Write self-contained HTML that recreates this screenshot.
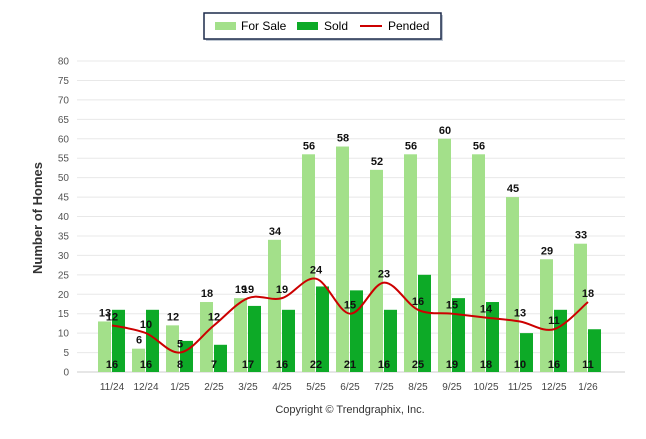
<!DOCTYPE html>
<html><head><meta charset="utf-8"><style>
body{margin:0;background:#fff;width:646px;height:434px;overflow:hidden;font-family:"Liberation Sans",Arial,sans-serif}
</style></head><body>
<svg id="chart" width="646" height="434" xmlns="http://www.w3.org/2000/svg" font-family="Liberation Sans, Arial, sans-serif">
<g>
<rect x="206" y="15" width="237" height="26" fill="#7f8fa6" opacity="0.5"/>
<rect x="204" y="13" width="237" height="26" fill="#fff" stroke="#1c2a4a" stroke-width="1.5"/>
<rect x="215" y="22" width="21" height="8" fill="#a3e08a"/>
<text x="241" y="30" font-size="12" fill="#000">For Sale</text>
<rect x="297" y="22" width="21" height="8" fill="#0daa27"/>
<text x="324" y="30" font-size="12" fill="#000">Sold</text>
<line x1="360" y1="26" x2="382" y2="26" stroke="#cc0000" stroke-width="2"/>
<text x="388" y="30" font-size="12" fill="#000">Pended</text>
</g>
<text transform="translate(42,218) rotate(-90)" text-anchor="middle" font-size="13" font-weight="bold" fill="#333">Number of Homes</text>
<text x="350" y="413" text-anchor="middle" font-size="11" fill="#333">Copyright © Trendgraphix, Inc.</text>
<g id="grid"></g><g id="bars"></g><g id="line"></g><g id="labels"></g>
</svg>
<script>
const categories=["11/24","12/24","1/25","2/25","3/25","4/25","5/25","6/25","7/25","8/25","9/25","10/25","11/25","12/25","1/26"];
const forSale=[13,6,12,18,19,34,56,58,52,56,60,56,45,29,33];
const sold=[16,16,8,7,17,16,22,21,16,25,19,18,10,16,11];
const pended=[12,10,5,12,19,19,24,15,23,16,15,14,13,11,18];
const yTicks=[0,5,10,15,20,25,30,35,40,45,50,55,60,65,70,75,80];
const NS="http://www.w3.org/2000/svg";
const y=v=>372-v*(311/80);
const x=i=>112+i*34;
function mk(t,a,p){const e=document.createElementNS(NS,t);for(const k in a)e.setAttribute(k,a[k]);p.appendChild(e);return e;}
const grid=document.getElementById('grid'),bars=document.getElementById('bars'),line=document.getElementById('line'),labels=document.getElementById('labels');
yTicks.forEach(t=>{
 const g=mk('line',{x1:77,x2:625,y1:y(t),y2:y(t),stroke:t===0?'#ccc':'#e8e8e8','stroke-width':1},grid);
 
 
 const tx=mk('text',{x:69,y:y(t)+3.5,'text-anchor':'end','font-size':10,fill:'#555'},grid);tx.textContent=t;
 
 
});
categories.forEach((c,i)=>{
 const tx=mk('text',{x:x(i),y:390,'text-anchor':'middle','font-size':10,fill:'#444'},grid);tx.textContent=c;
 
 
 const b1=mk('rect',{x:x(i)-14,y:y(forSale[i]),width:13,height:372-y(forSale[i]),fill:'#a3e08a'},bars);
 
 
 const b2=mk('rect',{x:x(i),y:y(sold[i]),width:13,height:372-y(sold[i]),fill:'#0daa27'},bars);
 
 
 const l1=mk('text',{x:x(i)-7,y:y(forSale[i])-5,'text-anchor':'middle','font-size':11,'font-weight':'bold',fill:'#111'},labels);l1.textContent=forSale[i];
 
 
 const l2=mk('text',{x:x(i),y:368,'text-anchor':'middle','font-size':11,'font-weight':'bold',fill:'#111'},labels);l2.textContent=sold[i];
 
 
 const l3=mk('text',{x:x(i),y:y(pended[i])-5,'text-anchor':'middle','font-size':11,'font-weight':'bold',fill:'#111'},labels);l3.textContent=pended[i];
 
 
});
const pts=pended.map((v,i)=>[x(i),y(v)]);
let d='M'+pts[0][0]+','+pts[0][1];
for(let i=0;i<pts.length-1;i++){
 const p0=pts[Math.max(0,i-1)],p1=pts[i],p2=pts[i+1],p3=pts[Math.min(pts.length-1,i+2)];
 const c1=[p1[0]+(p2[0]-p0[0])/6,p1[1]+(p2[1]-p0[1])/6],c2=[p2[0]-(p3[0]-p1[0])/6,p2[1]-(p3[1]-p1[1])/6];
 d+=` C${c1[0]},${c1[1]} ${c2[0]},${c2[1]} ${p2[0]},${p2[1]}`;
}
const pl=mk('path',{d:d,fill:'none',stroke:'#cc0000','stroke-width':2},line);


</script>
</body></html>
